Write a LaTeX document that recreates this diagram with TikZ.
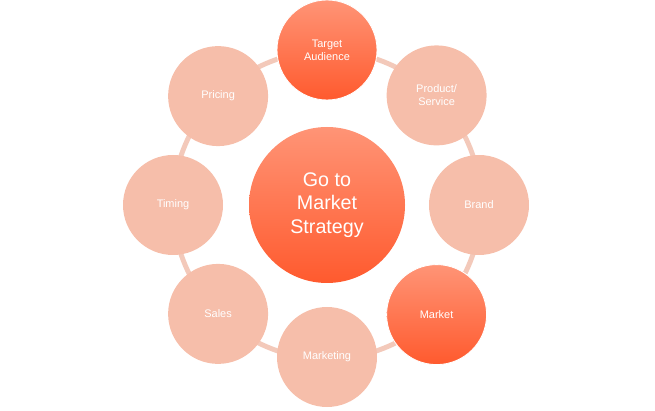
\documentclass[tikz,border=0pt]{standalone}
\usepackage{fontspec}
\setmainfont{Liberation Sans}
\usetikzlibrary{positioning, calc}
\definecolor{lightsalmon}{HTML}{F6BEAA}
\definecolor{ringline}{HTML}{F3C9BA}
\definecolor{hotorange}{HTML}{FF5A2E}
\definecolor{softorange}{HTML}{FF9476}
\tikzstyle{topic} = [circle, minimum size=2.5cm, inner sep=0pt, align=center, text=white, font=\fontsize{7.8}{9}\selectfont, fill=lightsalmon]
\tikzstyle{keytopic} = [topic, fill=none, top color=softorange, bottom color=hotorange, draw=white, line width=0.6pt]
\tikzstyle{hub} = [circle, minimum size=3.9cm, inner sep=0pt, align=center, text=white, font=\fontsize{14}{16.5}\selectfont, top color=softorange, bottom color=hotorange]

\begin{document}
\begin{tikzpicture}
        \useasboundingbox (0,0) rectangle (16.375,10.25);
        \coordinate (c) at (8.175,5.125);

        % Ring
        \draw [ringline, line width=3.5pt] (c) circle (3.85cm);

        % Outer circles
        \node (target) [keytopic] at ($(c)+(90:3.875)$) {Target\\Audience};
        \node (product) [topic] at ($(c)+(45:3.875)$) {Product/\\Service};
        \node (brand) [topic] at ($(c)+(0:3.8)$) {Brand};
        \node (market) [keytopic] at ($(c)+(-45:3.875)$) {Market};
        \node (marketing) [topic] at ($(c)+(-90:3.8)$) {Marketing};
        \node (sales) [topic] at ($(c)+(-135:3.85)$) {Sales};
        \node (timing) [topic] at ($(c)+(180:3.85)$) {Timing};
        \node (pricing) [topic] at ($(c)+(135:3.85)$) {Pricing};

        % Centre
        \node (gtm) [hub] at (c) {Go to\\Market\\Strategy};

\end{tikzpicture}
\end{document}
